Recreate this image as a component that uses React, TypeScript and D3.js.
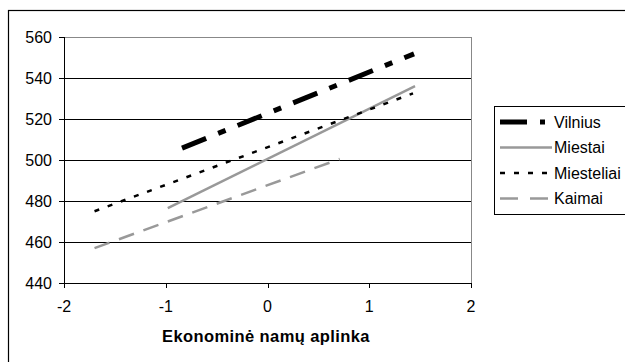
import React from "react";
import * as d3 from "d3";

const seriesNames = ["Vilnius", "Miestai", "Miesteliai", "Kaimai"];
const vilniusX = [-0.84, 1.44];
const vilniusY = [505.8, 551.8];
const miestaiX = [-0.98, 1.45];
const miestaiY = [476.5, 536];
const miesteliaiX = [-1.7, 1.43];
const miesteliaiY = [475, 532.5];
const kaimaiX = [-1.7, 0.71];
const kaimaiY = [457, 500.5];
const xTicks = [-2, -1, 0, 1, 2];
const yTicks = [440, 460, 480, 500, 520, 540, 560];
const xTitle = "Ekonominė namų aplinka";

const styles = [
  { color: "#000", width: 5, dash: "26 13 8 13", legDash: "27 13 5 30" },
  { color: "#999", width: 2.5, dash: null, legDash: null },
  { color: "#000", width: 2.5, dash: "5 9", legDash: "5 9" },
  { color: "#999", width: 2.5, dash: "16 10", legDash: "18 12" },
];

export default function App() {
  const W = 625, H = 362;
  const x = d3.scaleLinear().domain([-2, 2]).range([64, 471]);
  const y = d3.scaleLinear().domain([440, 560]).range([283, 37]);
  const data = [
    vilniusX.map((v, i) => [v, vilniusY[i]]),
    miestaiX.map((v, i) => [v, miestaiY[i]]),
    miesteliaiX.map((v, i) => [v, miesteliaiY[i]]),
    kaimaiX.map((v, i) => [v, kaimaiY[i]]),
  ];
  const line = d3.line<number[]>().x((d) => x(d[0])).y((d) => y(d[1]));
  const font = "Arial, 'Liberation Sans', sans-serif";
  const legY = [122, 147.5, 173, 198.5];
  return (
    <div style={{ position: "absolute", left: 0, top: 0 }}>
      <svg width={W} height={H} style={{ display: "block", background: "#fff" }} fontFamily={font}>
        <rect x={8.5} y={10.5} width={W} height={H} fill="#fff" stroke="#000" strokeWidth={1.2} />
        {/* gridlines */}
        {yTicks.slice(1, -1).map((t) => (
          <line key={t} x1={64} x2={471} y1={Math.round(y(t)) + 0.5} y2={Math.round(y(t)) + 0.5} stroke="#000" strokeWidth={1} />
        ))}
        <rect x={64.5} y={Math.round(y(560)) + 0.5} width={471 - 64} height={y(440) - y(560)} fill="none" stroke="#888" strokeWidth={1} />
        {/* axes */}
        <line x1={64.5} x2={64.5} y1={y(560)} y2={y(440)} stroke="#000" />
        <line x1={64} x2={471} y1={Math.round(y(440)) + 0.5} y2={Math.round(y(440)) + 0.5} stroke="#000" />
        {yTicks.map((t) => (
          <g key={t}>
            <line x1={59} x2={64.5} y1={Math.round(y(t)) + 0.5} y2={Math.round(y(t)) + 0.5} stroke="#000" />
            <text x={52} y={y(t)} textAnchor="end" dominantBaseline="central" fontSize={16} fill="#000">
              {t}
            </text>
          </g>
        ))}
        {xTicks.map((t) => (
          <g key={t}>
            <line x1={Math.round(x(t)) + 0.5} x2={Math.round(x(t)) + 0.5} y1={283} y2={288} stroke="#000" />
            <text x={x(t)} y={306} textAnchor="middle" dominantBaseline="central" fontSize={16} fill="#000">
              {t}
            </text>
          </g>
        ))}
        <text x={266} y={336} textAnchor="middle" dominantBaseline="central" fontSize={16.5} fontWeight="bold" letterSpacing={0.4} fill="#000">
          {xTitle}
        </text>
        {/* series */}
        {data.map((d, i) => (
          <path
            key={i}
            d={line(d) || ""}
            fill="none"
            stroke={styles[i].color}
            strokeWidth={styles[i].width}
            strokeDasharray={styles[i].dash || undefined}
          />
        ))}
        {/* legend */}
        <rect x={494.5} y={106.5} width={200} height={108} fill="#fff" stroke="#000" strokeWidth={1} />
        {seriesNames.map((n, i) => (
          <g key={n}>
            <line
              x1={500}
              x2={552}
              y1={legY[i]}
              y2={legY[i]}
              stroke={styles[i].color}
              strokeWidth={styles[i].width}
              strokeDasharray={styles[i].legDash || undefined}
            />
            <text x={554} y={legY[i]} dominantBaseline="central" fontSize={16} fill="#000">
              {n}
            </text>
          </g>
        ))}
      </svg>
    </div>
  );
}
